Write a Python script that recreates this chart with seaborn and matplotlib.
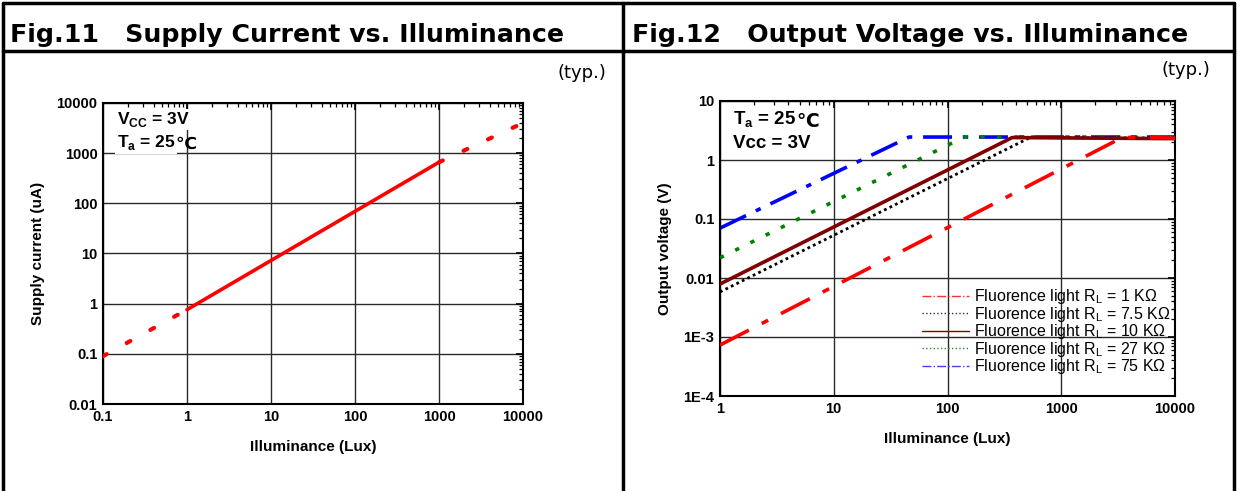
import matplotlib
matplotlib.use("Agg")
import matplotlib.pyplot as plt
from matplotlib.lines import Line2D
from matplotlib.ticker import FixedLocator, FixedFormatter, LogLocator, NullFormatter
import seaborn as sns
import pandas as pd

# Fig.11 supply current (uA) vs illuminance (lux)
sc_solid_lux = [1, 1000]
sc_solid_ua = [0.76, 660]
sc_low_lux = [0.1, 1]
sc_low_ua = [0.09, 0.76]
sc_high_lux = [1000, 10000]
sc_high_ua = [660, 4000]

# Fig.12 output voltage (V) vs illuminance (lux), one knee per load resistor
rl_labels = ["1 K\u03a9", "7.5 K\u03a9", "10 K\u03a9", "27 K\u03a9", "75 K\u03a9"]
ov_lux = {
    "1 K\u03a9": [1, 3450, 10000],
    "7.5 K\u03a9": [1, 530, 10000],
    "10 K\u03a9": [1, 370, 10000],
    "27 K\u03a9": [1, 140, 10000],
    "75 K\u03a9": [1, 46, 10000],
}
ov_volt = {
    "1 K\u03a9": [0.00073, 2.42, 2.35],
    "7.5 K\u03a9": [0.0058, 2.4, 2.35],
    "10 K\u03a9": [0.0079, 2.4, 2.3],
    "27 K\u03a9": [0.022, 2.45, 2.45],
    "75 K\u03a9": [0.07, 2.45, 2.45],
}

styles = {
    "1 K\u03a9": dict(color="#ff0000", linestyle=(0, (9, 4, 2, 4)), linewidth=2.6, zorder=6),
    "7.5 K\u03a9": dict(color="#000000", linestyle=(0, (1, 1.2)), linewidth=2.0, zorder=4),
    "10 K\u03a9": dict(color="#800000", linestyle="-", linewidth=2.6, zorder=5),
    "27 K\u03a9": dict(color="#008000", linestyle=(0, (1.2, 3.5)), linewidth=2.6, zorder=3),
    "75 K\u03a9": dict(color="#0000ff", linestyle=(0, (8, 3, 1.5, 3)), linewidth=2.6, zorder=2),
}
legend_colors = ["#ff3030", "#303030", "#800000", "#2a8a2a", "#4040ff"]
legend_styles = ["-.", ":", "-", ":", "-."]

sns.set_theme(style="white")
plt.rcParams["font.family"] = ["Liberation Sans", "DejaVu Sans"]
plt.rcParams["axes.edgecolor"] = "black"
plt.rcParams["text.color"] = "black"
plt.rcParams["axes.labelcolor"] = "black"
plt.rcParams["xtick.color"] = "black"
plt.rcParams["ytick.color"] = "black"

fig = plt.figure(figsize=(12.37, 4.91), dpi=100)


def style_log_axes(ax, xmaj, xlab, ymaj, ylab, xlim, ylim):
    ax.set_xscale("log")
    ax.set_yscale("log")
    ax.set_xlim(*xlim)
    ax.set_ylim(*ylim)
    ax.xaxis.set_major_locator(FixedLocator(xmaj))
    ax.xaxis.set_major_formatter(FixedFormatter(xlab))
    ax.yaxis.set_major_locator(FixedLocator(ymaj))
    ax.yaxis.set_major_formatter(FixedFormatter(ylab))
    ax.xaxis.set_minor_locator(LogLocator(base=10, subs=range(2, 10), numticks=50))
    ax.yaxis.set_minor_locator(LogLocator(base=10, subs=range(2, 10), numticks=50))
    ax.xaxis.set_minor_formatter(NullFormatter())
    ax.yaxis.set_minor_formatter(NullFormatter())
    ax.tick_params(which="both", direction="in", top=True, right=True, colors="black")
    ax.tick_params(which="major", length=5, width=1.2, labelsize=10.5, pad=4)
    ax.tick_params(which="minor", length=3, width=0.9)
    for lbl in ax.get_xticklabels() + ax.get_yticklabels():
        lbl.set_fontweight("bold")
    ax.grid(True, which="major", color="#2a2a2a", linewidth=1.0)
    ax.grid(False, which="minor")
    for sp in ax.spines.values():
        sp.set_linewidth(1.5)
        sp.set_color("black")


def temp_label(ax, x, y, text, size, white):
    kw = dict(fontsize=size, fontweight="bold", va="center", ha="left", zorder=8)
    if white:
        kw["bbox"] = dict(facecolor="white", edgecolor="none", pad=1)
    t = ax.text(x, y, text, transform=ax.transAxes, **kw)
    # the degree-Celsius sign is drawn in DejaVu Sans, which has it
    ax.annotate("\u2103", xy=(1, 0.42), xycoords=t, va="center", ha="left",
                fontsize=size, fontweight="bold", family="DejaVu Sans", zorder=8)


# ---- left panel ----
ax1 = fig.add_axes([103 / 1237, 1 - 404 / 491, 420 / 1237, 301 / 491])
style_log_axes(ax1, [0.1, 1, 10, 100, 1000, 10000],
               ["0.1", "1", "10", "100", "1000", "10000"],
               [0.01, 0.1, 1, 10, 100, 1000, 10000],
               ["0.01", "0.1", "1", "10", "100", "1000", "10000"],
               (0.1, 10000), (0.01, 10000))
sns.lineplot(x=sc_solid_lux, y=sc_solid_ua, ax=ax1, color="#ff0000", linewidth=2.6, zorder=5)
sns.lineplot(x=sc_low_lux, y=sc_low_ua, ax=ax1, color="#ff0000", linewidth=3,
             linestyle=(0, (1, 5.5)), dash_capstyle="round", zorder=5)
sns.lineplot(x=sc_high_lux, y=sc_high_ua, ax=ax1, color="#ff0000", linewidth=3,
             linestyle=(0, (1, 5.5)), dash_capstyle="round", zorder=5)
ax1.set_xlabel("Illuminance (Lux)", fontsize=11, fontweight="bold", labelpad=12)
ax1.set_ylabel("Supply current (uA)", fontsize=11, fontweight="bold", labelpad=8)
ax1.text(0.033, 0.945, "V$_{\\mathregular{CC}}$ = 3V", transform=ax1.transAxes, fontsize=12.5,
         fontweight="bold", va="center", ha="left", zorder=8,
         bbox=dict(facecolor="white", edgecolor="none", pad=1))
temp_label(ax1, 0.033, 0.868, "T$_{\\mathregular{a}}$ = 25", 12.5, True)

# ---- right panel ----
ax2 = fig.add_axes([720 / 1237, 1 - 396 / 491, 455 / 1237, 295 / 491])
style_log_axes(ax2, [1, 10, 100, 1000, 10000],
               ["1", "10", "100", "1000", "10000"],
               [1e-4, 1e-3, 0.01, 0.1, 1, 10],
               ["1E-4", "1E-3", "0.01", "0.1", "1", "10"],
               (1, 10000), (1e-4, 10))
for rl in reversed(rl_labels):
    df = pd.DataFrame({"lux": ov_lux[rl], "v": ov_volt[rl]})
    sns.lineplot(data=df, x="lux", y="v", ax=ax2, **styles[rl])
ax2.set_xlabel("Illuminance (Lux)", fontsize=11, fontweight="bold", labelpad=12)
ax2.set_ylabel("Output voltage (V)", fontsize=11, fontweight="bold", labelpad=8)
temp_label(ax2, 0.028, 0.935, "T$_{\\mathregular{a}}$ = 25 ", 13.5, False)
ax2.text(0.028, 0.855, "Vcc = 3V", transform=ax2.transAxes, fontsize=13.5,
         fontweight="bold", va="center", ha="left", zorder=8)
handles = [Line2D([], [], color=c, linestyle=s, linewidth=1.0)
           for c, s in zip(legend_colors, legend_styles)]
labels = ["Fluorence light R$_{\\mathregular{L}}$ = " + rl for rl in rl_labels]
ax2.legend(handles, labels, loc="lower right", frameon=False, fontsize=11.5,
           handlelength=3.0, handletextpad=0.3, labelspacing=-0.1,
           bbox_to_anchor=(1.012, 0.035), borderaxespad=0.2)

# ---- frame and titles ----
frame_kw = dict(transform=fig.transFigure, color="black", linewidth=2.5)
fig.add_artist(Line2D([3 / 1237, 3 / 1237], [0, 1 - 3 / 491], **frame_kw))
fig.add_artist(Line2D([623 / 1237, 623 / 1237], [0, 1 - 3 / 491], **frame_kw))
fig.add_artist(Line2D([1234 / 1237, 1234 / 1237], [0, 1 - 3 / 491], **frame_kw))
fig.add_artist(Line2D([3 / 1237, 1234 / 1237], [1 - 3 / 491, 1 - 3 / 491], **frame_kw))
fig.add_artist(Line2D([3 / 1237, 1234 / 1237], [1 - 51 / 491, 1 - 51 / 491], **frame_kw))

fig.text(10 / 1237, 1 - 35 / 491, "Fig.11   Supply Current vs. Illuminance", fontsize=18.2,
         fontweight="bold", family="DejaVu Sans", va="center", ha="left")
fig.text(632 / 1237, 1 - 35 / 491, "Fig.12   Output Voltage vs. Illuminance", fontsize=18.2,
         fontweight="bold", family="DejaVu Sans", va="center", ha="left")
fig.text(606 / 1237, 1 - 73 / 491, "(typ.)", fontsize=13, family="DejaVu Sans",
         va="center", ha="right")
fig.text(1210 / 1237, 1 - 70 / 491, "(typ.)", fontsize=13, family="DejaVu Sans",
         va="center", ha="right")

fig.savefig("out.png", dpi=100)
